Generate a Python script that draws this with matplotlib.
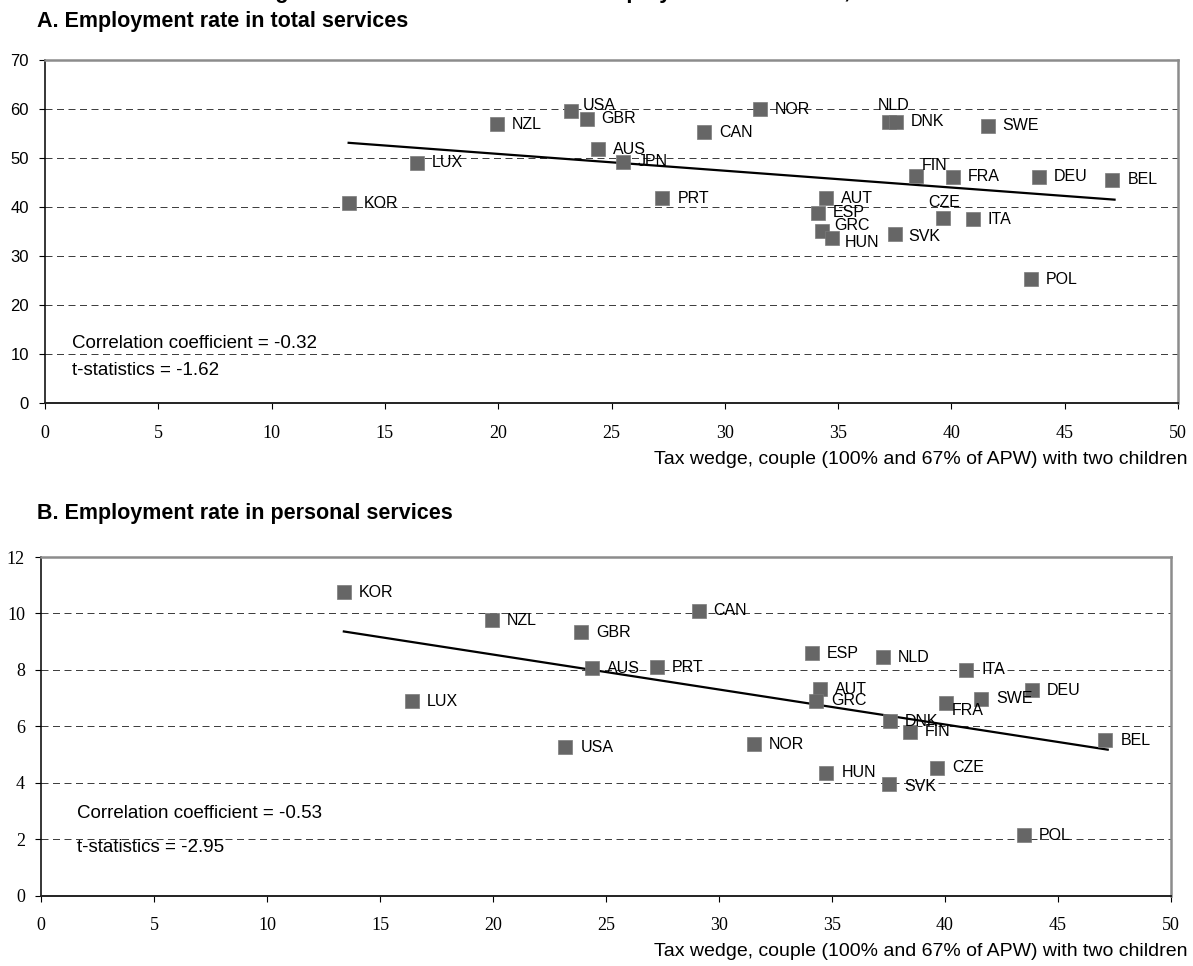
"""
Tax wedge vs employment rates in services, two scatter panels
"""

import numpy as np
import matplotlib
matplotlib.use("Agg")
import matplotlib.pyplot as plt

plt.rcParams['font.family'] = 'Liberation Sans'

#panel A: employment rate in total services
countries_a = ["KOR", "LUX", "NZL", "USA", "GBR", "AUS", "JPN", "CAN", "PRT", "NOR",
               "NLD", "DNK", "SWE", "FIN", "FRA", "DEU", "BEL", "AUT", "CZE", "ITA",
               "ESP", "GRC", "HUN", "SVK", "POL"]
wedge_a = [13.4, 16.4, 19.95, 23.2, 23.9, 24.4, 25.5, 29.1, 27.25, 31.55,
           37.25, 37.55, 41.6, 38.45, 40.05, 43.85, 47.1, 34.45, 39.65, 40.95,
           34.1, 34.3, 34.75, 37.5, 43.5]
rate_a = [40.8, 49.0, 56.9, 59.6, 58.0, 51.8, 49.2, 55.3, 41.8, 59.9,
          57.3, 57.4, 56.6, 46.4, 46.2, 46.2, 45.6, 41.8, 37.8, 37.5,
          38.8, 35.2, 33.6, 34.5, 25.3]
trend_x = [13.4, 47.2]
trend_a = [53.1, 41.5]
stats_a = ["Correlation coefficient = -0.32", "t-statistics = -1.62"]

#panel B: employment rate in personal services
countries_b = ["KOR", "NZL", "CAN", "GBR", "ESP", "NLD", "ITA", "AUS", "PRT", "AUT",
               "GRC", "DEU", "LUX", "FRA", "SWE", "DNK", "FIN", "BEL", "USA", "NOR",
               "HUN", "CZE", "SVK", "POL"]
wedge_b = [13.4, 19.95, 29.1, 23.9, 34.1, 37.25, 40.95, 24.4, 27.25, 34.45,
           34.3, 43.85, 16.4, 40.05, 41.6, 37.55, 38.45, 47.1, 23.2, 31.55,
           34.75, 39.65, 37.5, 43.5]
rate_b = [10.75, 9.76, 10.1, 9.34, 8.58, 8.44, 8.0, 8.06, 8.1, 7.32,
          6.91, 7.27, 6.88, 6.82, 6.97, 6.18, 5.8, 5.51, 5.26, 5.36,
          4.35, 4.52, 3.95, 2.13]
trend_b = [9.36, 5.17]
stats_b = ["Correlation coefficient = -0.53", "t-statistics = -2.95"]

xlabel = "Tax wedge, couple (100% and 67% of APW) with two children"

#label nudges in pixels (dx right, dy down), default is just right of the marker
nudge_a = {"USA": (12, -5), "NLD": (-11, -17), "FIN": (5, -10), "CZE": (-15, -15),
           "GRC": (12, -5), "HUN": (12, 4), "SVK": (14, 3)}
nudge_b = {"FRA": (6, 7), "SVK": (16, 2)}

W, H = 1193, 966
fig = plt.figure(figsize=(W / 100, H / 100), dpi=100)


def px(x, y):
    return x / W, 1 - y / H


def panel(ax, names, wedge, rate, trend, ymax, ystep, nudge, ysans):
    ax.plot(wedge, rate, 's', ms=9.5, color='#666666', mec='#7a7a7a', mew=0.5, zorder=3)
    ax.plot(trend_x, trend, color='black', lw=1.6, zorder=2)
    for n, x, y in zip(names, wedge, rate):
        dx, dy = nudge.get(n, (15, 0))
        ax.annotate(n, (x, y), xytext=(dx, -dy), textcoords='offset pixels',
                    ha='left', va='center', fontsize=11.5, zorder=4)
    ax.set_xlim(0, 50)
    ax.set_ylim(0, ymax)
    yt = np.arange(0, ymax + ystep / 2, ystep)
    ax.set_xticks(range(0, 51, 5))
    ax.set_yticks(yt)
    for v in yt[1:-1]:
        ax.axhline(v, color='#404040', lw=0.72, ls=(0, (7, 4.5)), zorder=1)
    for s in ["top", "right"]:
        ax.spines[s].set_color('#8c8c8c')
        ax.spines[s].set_linewidth(1.8)
    ax.spines["left"].set_linewidth(1.1)
    ax.spines["bottom"].set_linewidth(1.4)
    ax.spines["bottom"].set_color('#222222')
    ax.tick_params(direction='out', length=4.5, width=0.8, pad=7)
    ax.tick_params(axis='x', pad=11)
    for lab in ax.get_xticklabels():
        lab.set_family('Liberation Serif')
        lab.set_fontsize(13)
    for lab in ax.get_yticklabels():
        if ysans:
            lab.set_fontsize(12)
        else:
            lab.set_family('Liberation Serif')
            lab.set_fontsize(13)


ax_a = fig.add_axes([45 / W, 1 - 403 / H, 1133 / W, 343 / H])
panel(ax_a, countries_a, wedge_a, rate_a, trend_a, 70, 10, nudge_a, True)
ax_b = fig.add_axes([41 / W, 1 - 895.5 / H, 1130 / W, 338.5 / H])
panel(ax_b, countries_b, wedge_b, rate_b, trend_b, 12, 2, nudge_b, False)

#headings and notes; the chart heading sits just above the top edge
fig.text(*px(190, -2), "Tax wedge on labour income and total employment in services, 2003",
         fontsize=15.8, weight='bold', va='baseline', ha='left')
fig.text(*px(37, 21), "A. Employment rate in total services", fontsize=15.5,
         weight='bold', va='center')
fig.text(*px(37, 514), "B. Employment rate in personal services", fontsize=15.5,
         weight='bold', va='center')
fig.text(*px(72, 344), stats_a[0], fontsize=13.5, va='center')
fig.text(*px(72, 371), stats_a[1], fontsize=13.5, va='center')
fig.text(*px(77, 813), stats_b[0], fontsize=13.5, va='center')
fig.text(*px(77, 848), stats_b[1], fontsize=13.5, va='center')
fig.text(*px(1188, 460), xlabel, fontsize=14, ha='right', va='center')
fig.text(*px(1188, 952), xlabel, fontsize=14, ha='right', va='center')

plt.savefig("out.png", dpi=100)
plt.close()
